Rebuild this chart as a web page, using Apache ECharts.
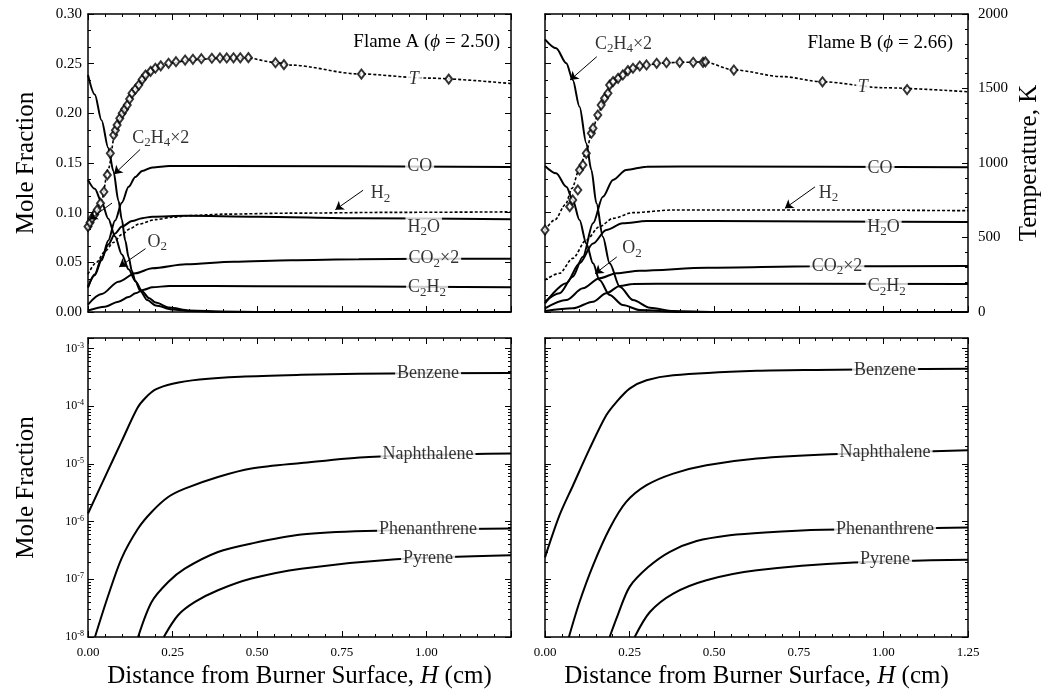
<!DOCTYPE html>
<html>
<head>
<meta charset="utf-8">
<style>
html, body { margin: 0; padding: 0; background: #fff; }
#chart { width: 1053px; height: 693px; }
</style>
<script src="https://cdn.jsdelivr.net/npm/echarts@6.0.0/dist/echarts.min.js"></script>
</head>
<body>
<div id="chart"></div>
<script>
// ---- Flame A, major species [H (cm), mole fraction]
var C2H4x2_A = [[0,0.2386],[0.02,0.219],[0.04,0.193],[0.06,0.165],[0.075,0.142],[0.09,0.112],[0.1,0.093],[0.11,0.072],[0.12,0.055],[0.13,0.041],[0.14,0.031],[0.155,0.021],[0.175,0.012],[0.2,0.0065],[0.25,0.0025],[0.3,0.001],[0.4,0.0002],[0.5,0],[1.25,0]];
var O2_A = [[0,0.133],[0.02,0.124],[0.04,0.111],[0.06,0.094],[0.08,0.076],[0.1,0.058],[0.12,0.043],[0.14,0.031],[0.16,0.021],[0.18,0.014],[0.2,0.0095],[0.24,0.0045],[0.3,0.0015],[0.4,0.0003],[0.5,0],[1.25,0]];
var CO_A = [[0,0.0255],[0.02,0.037],[0.04,0.052],[0.06,0.072],[0.08,0.092],[0.1,0.11],[0.12,0.126],[0.14,0.136],[0.16,0.142],[0.19,0.1455],[0.24,0.147],[0.4,0.147],[1.25,0.146]];
var H2O_A = [[0,0.0245],[0.02,0.038],[0.04,0.054],[0.06,0.068],[0.08,0.079],[0.1,0.086],[0.13,0.0915],[0.16,0.0945],[0.19,0.096],[0.29,0.097],[0.5,0.096],[0.8,0.0945],[1.25,0.0934]];
var H2_A = [[0,0.038],[0.025,0.05],[0.05,0.061],[0.075,0.07],[0.1,0.078],[0.125,0.084],[0.15,0.0885],[0.2,0.093],[0.25,0.0955],[0.3,0.097],[0.4,0.0985],[0.6,0.0995],[0.9,0.1003],[1.25,0.1008]];
var CO2x2_A = [[0,0.0075],[0.04,0.018],[0.09,0.0305],[0.14,0.039],[0.19,0.044],[0.29,0.048],[0.43,0.0505],[0.6,0.052],[0.8,0.053],[1.0,0.0535],[1.25,0.0537]];
var C2H2_A = [[0,0.0015],[0.05,0.0054],[0.09,0.0104],[0.12,0.015],[0.14,0.0188],[0.165,0.0225],[0.19,0.0249],[0.24,0.0262],[0.5,0.026],[1.25,0.025]];
// temperature (K): fitted profile and measured points
var Tfit_A = [[0,560],[0.02,640],[0.04,750],[0.06,960],[0.08,1200],[0.1,1330],[0.12,1420],[0.14,1495],[0.16,1555],[0.18,1600],[0.2,1635],[0.25,1672],[0.3,1692],[0.4,1703],[0.47,1705],[0.55,1676],[0.6,1657],[0.8,1598],[1.0,1570],[1.25,1533]];
var Texp_A = [[0,573],[0.006,600],[0.012,629],[0.02,655],[0.027,685],[0.037,730],[0.047,807],[0.057,920],[0.066,1065],[0.076,1188],[0.081,1220],[0.086,1255],[0.094,1300],[0.101,1334],[0.108,1360],[0.116,1389],[0.123,1430],[0.13,1468],[0.14,1495],[0.15,1523],[0.16,1560],[0.17,1590],[0.185,1615],[0.199,1636],[0.215,1652],[0.238,1669],[0.26,1680],[0.287,1691],[0.31,1696],[0.335,1700],[0.366,1703],[0.39,1705],[0.41,1705],[0.43,1706],[0.45,1706],[0.474,1707],[0.554,1673],[0.579,1660],[0.808,1597],[1.066,1563]];

// ---- Flame B, major species
var C2H4x2_B = [[0,0.2745],[0.033,0.2655],[0.063,0.2504],[0.082,0.2336],[0.102,0.2067],[0.122,0.17],[0.137,0.143],[0.152,0.1094],[0.171,0.0758],[0.191,0.049],[0.221,0.0255],[0.26,0.0121],[0.31,0.0043],[0.38,0.001],[0.5,0],[1.25,0]];
var O2_B = [[0,0.147],[0.033,0.1396],[0.063,0.126],[0.082,0.1128],[0.102,0.0926],[0.122,0.069],[0.142,0.049],[0.161,0.0322],[0.191,0.0171],[0.23,0.007],[0.28,0.002],[0.4,0],[1.25,0]];
var CO_B = [[0,0.0104],[0.043,0.0188],[0.082,0.0356],[0.112,0.0557],[0.142,0.0893],[0.171,0.116],[0.201,0.133],[0.24,0.143],[0.3,0.1463],[0.5,0.1465],[1.25,0.1457]];
var H2O_B = [[0,0.0087],[0.063,0.029],[0.102,0.049],[0.142,0.069],[0.181,0.0826],[0.23,0.0893],[0.3,0.0916],[0.5,0.0915],[1.25,0.0906]];
var H2_B = [[0,0.0322],[0.043,0.039],[0.082,0.054],[0.122,0.0725],[0.161,0.0859],[0.201,0.0943],[0.26,0.1],[0.38,0.1027],[0.8,0.1027],[1.25,0.102]];
var CO2x2_B = [[0,0.0037],[0.063,0.0121],[0.112,0.0238],[0.161,0.0339],[0.211,0.039],[0.28,0.0416],[0.48,0.0446],[0.8,0.046],[1.25,0.0463]];
var C2H2_B = [[0,0.001],[0.082,0.0037],[0.142,0.0104],[0.181,0.0188],[0.221,0.0262],[0.26,0.0282],[0.4,0.0285],[1.25,0.0282]];
var Tfit_B = [[0,550],[0.03,620],[0.06,720],[0.08,830],[0.1,950],[0.12,1060],[0.14,1220],[0.16,1350],[0.18,1450],[0.2,1530],[0.23,1590],[0.26,1630],[0.3,1658],[0.35,1671],[0.4,1676],[0.47,1678],[0.56,1624],[0.7,1580],[0.82,1545],[1.0,1505],[1.25,1478]];
var Texp_B = [[0,550],[0.073,707],[0.082,752],[0.097,819],[0.102,953],[0.112,987],[0.122,1065],[0.137,1200],[0.142,1233],[0.156,1322],[0.166,1389],[0.176,1434],[0.186,1468],[0.191,1523],[0.201,1546],[0.216,1568],[0.23,1591],[0.245,1620],[0.26,1636],[0.28,1651],[0.3,1658],[0.33,1669],[0.359,1673],[0.398,1676],[0.438,1676],[0.467,1676],[0.474,1679],[0.558,1624],[0.82,1545],[1.07,1493]];

// ---- aromatics (log scale)
var Benz_A = [[0,1.38e-6],[0.05,5.9e-6],[0.1,2.5e-5],[0.146,9.3e-5],[0.17,1.4e-4],[0.2,1.95e-4],[0.25,2.45e-4],[0.33,2.9e-4],[0.45,3.25e-4],[0.63,3.5e-4],[0.8,3.65e-4],[1.25,3.76e-4]];
var Naph_A = [[0.0206,1e-8],[0.06,5.28e-8],[0.099,2.29e-7],[0.148,7.59e-7],[0.188,1.47e-6],[0.237,2.67e-6],[0.286,3.73e-6],[0.384,5.93e-6],[0.483,8.32e-6],[0.63,1.035e-5],[0.83,1.32e-5],[1.25,1.51e-5]];
var Phen_A = [[0.148,1e-8],[0.188,4.05e-8],[0.237,8.97e-8],[0.286,1.53e-7],[0.384,2.97e-7],[0.483,4.17e-7],[0.63,5.96e-7],[0.82,6.87e-7],[1.25,7.59e-7]];
var Pyr_A = [[0.224,1e-8],[0.266,2.38e-8],[0.316,4.05e-8],[0.384,6.46e-8],[0.483,1.03e-7],[0.63,1.53e-7],[0.91,2.22e-7],[1.25,2.61e-7]];
var Benz_B = [[0,2.4e-7],[0.043,1.29e-6],[0.083,4.27e-6],[0.132,1.84e-5],[0.181,6.95e-5],[0.211,1.18e-4],[0.25,2.02e-4],[0.3,2.81e-4],[0.379,3.43e-4],[0.626,4.1e-4],[0.8,4.25e-4],[1.25,4.47e-4]];
var Naph_B = [[0.0706,1e-8],[0.102,4.05e-8],[0.142,1.75e-7],[0.191,7.59e-7],[0.24,2.19e-6],[0.3,4.27e-6],[0.379,6.79e-6],[0.477,9.46e-6],[0.626,1.236e-5],[0.843,1.466e-5],[1.25,1.72e-5]];
var Phen_B = [[0.191,1e-8],[0.215,2.4e-8],[0.25,7.4e-8],[0.305,1.63e-7],[0.369,3.0e-7],[0.448,4.6e-7],[0.546,5.8e-7],[0.65,6.5e-7],[0.823,7.2e-7],[1.25,7.87e-7]];
var Pyr_B = [[0.265,1e-8],[0.31,2.71e-8],[0.379,5.65e-8],[0.477,9.62e-8],[0.626,1.43e-7],[0.912,1.95e-7],[1.25,2.19e-7]];

// ---- curve labels and arrows (data coordinates)
var labels_A = [
    {t: 'CO', at: [0.98, 0.147], bg: true},
    {t: 'H{s|2}O', at: [0.992, 0.0856], bg: true},
    {t: 'CO{s|2}×2', at: [1.022, 0.0537], bg: true},
    {t: 'C{s|2}H{s|2}', at: [1.002, 0.0245], bg: true},
    {t: '{i|T}', at: [0.963, 0.2345], bg: true},
    {t: 'H{s|2}', at: [0.864, 0.1192]},
    {t: 'C{s|2}H{s|4}×2', at: [0.215, 0.1747]},
    {t: 'O{s|2}', at: [0.205, 0.0705]}
];
var arrows_A = [
    [[0.813, 0.1226], [0.731, 0.103]],
    [[0.154, 0.1636], [0.077, 0.1387]],
    [[0.17, 0.0638], [0.092, 0.0453]],
    [[0.071, 0.1097], [0.004, 0.093]]
];
var labels_B = [
    {t: 'CO', at: [0.99, 0.1447], bg: true},
    {t: 'H{s|2}O', at: [1.0, 0.0853], bg: true},
    {t: 'CO{s|2}×2', at: [0.863, 0.0463], bg: true},
    {t: 'C{s|2}H{s|2}', at: [1.01, 0.0255], bg: true},
    {t: '{i|T}', at: [0.939, 0.226], bg: true},
    {t: 'H{s|2}', at: [0.838, 0.1195]},
    {t: 'C{s|2}H{s|4}×2', at: [0.232, 0.27]},
    {t: 'O{s|2}', at: [0.257, 0.0638]}
];
var arrows_B = [
    [[0.153, 0.257], [0.074, 0.2335]],
    [[0.798, 0.126], [0.709, 0.1044]],
    [[0.212, 0.0554], [0.148, 0.0386]]
];
var labels_PA = [
    {t: 'Benzene', at: [1.005, 3.67e-4], bg: true},
    {t: 'Naphthalene', at: [1.005, 1.45e-5], bg: true},
    {t: 'Phenanthrene', at: [1.005, 7.35e-7], bg: true},
    {t: 'Pyrene', at: [1.005, 2.29e-7], bg: true}
];
var labels_PB = [
    {t: 'Benzene', at: [1.005, 4.19e-4], bg: true},
    {t: 'Naphthalene', at: [1.005, 1.62e-5], bg: true},
    {t: 'Phenanthrene', at: [1.005, 7.24e-7], bg: true},
    {t: 'Pyrene', at: [1.005, 2.19e-7], bg: true}
];

var SERIF = '"Liberation Serif", "DejaVu Serif", serif';
var BLACK = '#000';

function xAx(gi, pos, showLabel, showMax, name) {
    return {
        type: 'value', gridIndex: gi, position: pos, min: 0, max: 1.25, interval: 0.25,
        axisLine: {show: true, onZero: false, lineStyle: {color: BLACK, width: 1.5}},
        axisTick: {show: true, inside: true, length: 6, lineStyle: {color: BLACK, width: 1}},
        minorTick: {show: true, splitNumber: 5, length: 3, lineStyle: {color: BLACK, width: 1}},
        splitLine: {show: false},
        axisLabel: {show: showLabel, showMaxLabel: showMax, margin: 9, color: BLACK, fontFamily: SERIF, fontSize: 13,
            formatter: function (v) { return v.toFixed(2); }},
        name: name || '', nameLocation: 'middle', nameGap: 27,
        nameTextStyle: {color: BLACK, fontFamily: SERIF, fontSize: 25, rich: {
            t: {fontFamily: SERIF, fontSize: 25, color: BLACK},
            i: {fontStyle: 'italic', fontFamily: SERIF, fontSize: 25, color: BLACK}}}
    };
}
function yLin(gi, pos, showLabel, name) {
    return {
        type: 'value', gridIndex: gi, position: pos, min: 0, max: 0.30, interval: 0.05,
        axisLine: {show: true, onZero: false, lineStyle: {color: BLACK, width: 1.5}},
        axisTick: {show: true, inside: true, length: 6, lineStyle: {color: BLACK, width: 1}},
        minorTick: {show: true, splitNumber: 3, length: 3, lineStyle: {color: BLACK, width: 1}},
        splitLine: {show: false},
        axisLabel: {show: showLabel, margin: 6, color: BLACK, fontFamily: SERIF, fontSize: 15,
            formatter: function (v) { return v.toFixed(2); }},
        name: name || '', nameLocation: 'middle', nameRotate: 90, nameGap: 49,
        nameTextStyle: {color: BLACK, fontFamily: SERIF, fontSize: 25}
    };
}
function yTemp(gi, visible) {
    return {
        type: 'value', gridIndex: gi, position: 'right', min: 0, max: 2000, interval: 500, show: visible,
        axisLine: {show: true, onZero: false, lineStyle: {color: BLACK, width: 1.5}},
        axisTick: {show: true, inside: true, length: 6, lineStyle: {color: BLACK, width: 1}},
        minorTick: {show: true, splitNumber: 5, length: 3, lineStyle: {color: BLACK, width: 1}},
        splitLine: {show: false},
        axisLabel: {margin: 10, color: BLACK, fontFamily: SERIF, fontSize: 15,
            formatter: function (v) { return String(v); }},
        name: 'Temperature, K', nameLocation: 'middle', nameRotate: 90, nameGap: 49,
        nameTextStyle: {color: BLACK, fontFamily: SERIF, fontSize: 25}
    };
}
function yLog(gi, pos, showLabel, name) {
    return {
        type: 'log', logBase: 10, gridIndex: gi, position: pos, min: 1e-8, max: 1.52e-3,
        axisLine: {show: true, onZero: false, lineStyle: {color: BLACK, width: 1.5}},
        axisTick: {show: true, inside: true, length: 6, lineStyle: {color: BLACK, width: 1}},
        minorTick: {show: true, splitNumber: 9, length: 3, lineStyle: {color: BLACK, width: 1}},
        splitLine: {show: false},
        axisLabel: {show: showLabel, showMaxLabel: false, margin: 4, color: BLACK,
            formatter: function (v) { return '{b|10}{s|' + Math.round(Math.log10(v)) + '}'; },
            rich: {
                b: {fontFamily: SERIF, fontSize: 12, color: BLACK, lineHeight: 14},
                s: {fontFamily: SERIF, fontSize: 8, color: BLACK, lineHeight: 8, verticalAlign: 'top'}
            }},
        name: name || '', nameLocation: 'middle', nameRotate: 90, nameGap: 49,
        nameTextStyle: {color: BLACK, fontFamily: SERIF, fontSize: 25}
    };
}

function curve(data, xi, yi, dotted, noMono) {
    return {
        type: 'line', data: data, xAxisIndex: xi, yAxisIndex: yi,
        smooth: 0.3, smoothMonotone: noMono ? null : 'x', symbol: 'none', silent: true, z: 3,
        lineStyle: {color: BLACK, width: dotted ? 1.6 : 2, type: dotted ? [3, 2] : 'solid'}
    };
}
function logCurve(data, xi, yi) {
    return curve(data, xi, yi, false, true);
}
function points(data, xi, yi) {
    return {
        type: 'scatter', data: data, xAxisIndex: xi, yAxisIndex: yi, silent: true, z: 4,
        symbol: 'emptyDiamond', symbolSize: [7, 9],
        itemStyle: {color: BLACK, borderColor: BLACK, borderWidth: 1}
    };
}
function annot(list, arrows, xi, yi, size) {
    return {
        type: 'scatter', xAxisIndex: xi, yAxisIndex: yi, silent: true, z: 10,
        symbolSize: 1, itemStyle: {color: 'rgba(0,0,0,0)'},
        data: list.map(function (a) {
            return {value: a.at, text: a.t,
                label: a.bg ? {backgroundColor: '#fff', padding: [0, 2, 0, 2]} : {}};
        }),
        label: {
            show: true, position: 'inside', color: BLACK, fontFamily: SERIF, fontSize: size, lineHeight: 22,
            formatter: function (p) { return p.data.text; },
            rich: {
                s: {fontFamily: SERIF, fontSize: Math.round(size * 0.7), color: BLACK, lineHeight: 12, padding: [11, 0, 0, 0], verticalAlign: 'bottom'},
                i: {fontFamily: SERIF, fontSize: size, fontStyle: 'italic', color: BLACK}
            }
        },
        markLine: {
            silent: true, symbol: ['none', 'arrow'], symbolSize: 8, label: {show: false},
            lineStyle: {color: BLACK, width: 1, type: 'solid'},
            data: arrows.map(function (a) { return [{coord: a[0]}, {coord: a[1]}]; })
        }
    };
}

var xName = '{t|Distance from Burner Surface, }{i|H}{t| (cm)}';

var option = {
    backgroundColor: '#fff',
    animation: false,
    grid: [
        {left: 88, top: 14, width: 423, height: 298, outerBoundsMode: 'none'},
        {left: 545, top: 14, width: 423, height: 298, outerBoundsMode: 'none'},
        {left: 88, top: 338, width: 423, height: 299, outerBoundsMode: 'none'},
        {left: 545, top: 338, width: 423, height: 299, outerBoundsMode: 'none'}
    ],
    xAxis: [
        xAx(0, 'bottom', false, false), xAx(0, 'top', false, false),
        xAx(1, 'bottom', false, false), xAx(1, 'top', false, false),
        xAx(2, 'bottom', true, false, xName), xAx(2, 'top', false, false),
        xAx(3, 'bottom', true, true, xName), xAx(3, 'top', false, false)
    ],
    yAxis: [
        yLin(0, 'left', true, 'Mole Fraction'), yLin(0, 'right', false), yTemp(0, false),
        yLin(1, 'left', false), yTemp(1, true),
        yLog(2, 'left', true, 'Mole Fraction'), yLog(2, 'right', false),
        yLog(3, 'left', false), yLog(3, 'right', false)
    ],
    graphic: [
        {type: 'text', x: 500, y: 42, style: {text: 'Flame A ({i|ϕ} = 2.50)', fill: BLACK, fontFamily: SERIF, fontSize: 19, align: 'right', verticalAlign: 'middle',
            rich: {i: {fontStyle: 'italic', fontFamily: SERIF, fontSize: 19}}}},
        {type: 'text', x: 953, y: 43, style: {text: 'Flame B ({i|ϕ} = 2.66)', fill: BLACK, fontFamily: SERIF, fontSize: 19, align: 'right', verticalAlign: 'middle',
            rich: {i: {fontStyle: 'italic', fontFamily: SERIF, fontSize: 19}}}}
    ],
    series: [
        // flame A
        curve(C2H4x2_A, 0, 0), curve(O2_A, 0, 0), curve(CO_A, 0, 0), curve(H2O_A, 0, 0),
        curve(H2_A, 0, 0, true), curve(CO2x2_A, 0, 0), curve(C2H2_A, 0, 0),
        curve(Tfit_A, 0, 2, true), points(Texp_A, 0, 2),
        annot(labels_A, arrows_A, 0, 0, 18),
        // flame B
        curve(C2H4x2_B, 2, 3), curve(O2_B, 2, 3), curve(CO_B, 2, 3), curve(H2O_B, 2, 3),
        curve(H2_B, 2, 3, true), curve(CO2x2_B, 2, 3), curve(C2H2_B, 2, 3),
        curve(Tfit_B, 2, 4, true), points(Texp_B, 2, 4),
        annot(labels_B, arrows_B, 2, 3, 18),
        // aromatics
        logCurve(Benz_A, 4, 5), logCurve(Naph_A, 4, 5), logCurve(Phen_A, 4, 5), logCurve(Pyr_A, 4, 5),
        annot(labels_PA, [], 4, 5, 18),
        logCurve(Benz_B, 6, 7), logCurve(Naph_B, 6, 7), logCurve(Phen_B, 6, 7), logCurve(Pyr_B, 6, 7),
        annot(labels_PB, [], 6, 7, 18)
    ]
};

var chart = echarts.init(document.getElementById('chart'));
chart.setOption(option);
</script>
</body>
</html>
